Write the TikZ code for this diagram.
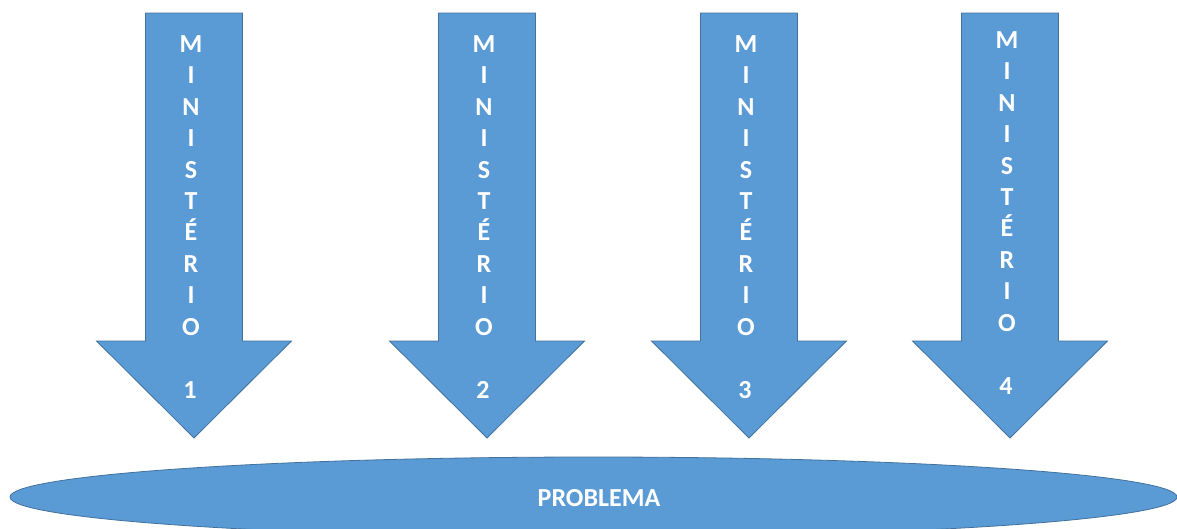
\documentclass[tikz,border=0pt]{standalone}
\usepackage{fontspec}
\setmainfont{Carlito}

\definecolor{fillblue}{HTML}{5B9BD5}
\definecolor{edgeblue}{HTML}{41719C}

\tikzset{
    blockshape/.style={fill=fillblue, draw=edgeblue, line width=0.8pt},
    arrowtext/.style={text=white, inner sep=0pt, align=center,
        font=\fontsize{26}{31.4}\selectfont\bfseries}
}

\begin{document}
\begin{tikzpicture}[x=1pt,y=-1pt]

\useasboundingbox (0,0) rectangle (1177,528);
\clip (0,0) rectangle (1177,528);

% problem ellipse
\draw[blockshape] (593.5,497) ellipse [x radius=583.5pt, y radius=40pt];
\node[arrowtext] (problema) at (599,498) {PROBLEMA};

% one arrow per ministry
\foreach \i/\x/\d in {1/194/0,2/487/0,3/749/0,4/1010/-4} {
    \coordinate (tip\i) at (\x,438);
    \draw[blockshape] (\x-48.5,13) -- (\x+48.5,13) -- (\x+48.5,341)
        -- (\x+97.5,341) -- (tip\i) -- (\x-97.5,341) -- (\x-48.5,341) -- cycle;
    \node[arrowtext] (min\i) at (\x-3,185.5+\d) {M\\I\\N\\I\\S\\T\\É\\R\\I\\O};
    \node[arrowtext] (num\i) at (\x-4,390+\d) {\i};
}

\end{tikzpicture}
\end{document}
